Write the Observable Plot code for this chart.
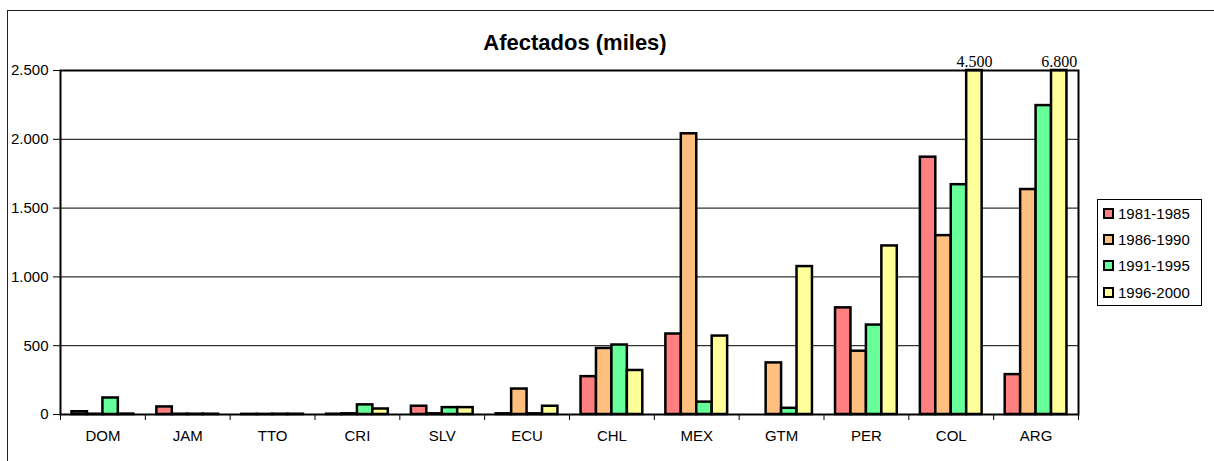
<!DOCTYPE html>
<html><head><meta charset="utf-8">
<script src="https://cdn.jsdelivr.net/npm/d3@7"></script>
<script src="https://cdn.jsdelivr.net/npm/@observablehq/plot@0.6"></script>
<style>
body{margin:0;background:#fff;overflow:hidden;font-family:"Liberation Sans",Arial,sans-serif;}
#wrap{position:relative;width:1214px;height:461px;overflow:hidden;}
#border{position:absolute;left:7px;top:10px;width:1300px;height:600px;border:1px solid #222;}
#title{position:absolute;left:0;width:1150px;top:30px;text-align:center;font-weight:bold;font-size:22px;}
#legend{position:absolute;left:1097px;top:199px;width:105px;height:107px;border:1px solid #000;box-sizing:border-box;background:#fff;}
.item{display:flex;align-items:center;height:26.3px;font-size:15px;}
.sw{width:11px;height:11px;border:2px solid #000;box-sizing:border-box;margin:0 4px 0 5px;}
#chart{position:absolute;left:0;top:0;}
</style></head>
<body>
<div id="wrap">
  <div id="border"></div>
  <div id="chart"></div>
  <div id="title">Afectados (miles)</div>
  <div id="legend"></div>
</div>
<script>
const countries = ["DOM","JAM","TTO","CRI","SLV","ECU","CHL","MEX","GTM","PER","COL","ARG"];
const periods = ["1981-1985","1986-1990","1991-1995","1996-2000"];
const colors = ["#FF8080","#FFBF7F","#66FF99","#FFFF99"];
const v1981 = [20, 55, 1, 2, 60, 5, 275, 585, 0, 775, 1870, 290];
const v1986 = [2, 2, 1, 5, 5, 185, 480, 2040, 375, 460, 1300, 1635];
const v1991 = [120, 2, 2, 70, 50, 5, 505, 90, 45, 650, 1670, 2245];
const v1996 = [3, 2, 2, 40, 50, 60, 320, 570, 1075, 1225, 4500, 6800];
const yTicks = [0, 500, 1000, 1500, 2000, 2500];
const gridValues = [500, 1000, 1500, 2000];
const yMax = 2500;

const series = [v1981, v1986, v1991, v1996];
const fmt = d3.formatLocale({decimal: ",", thousands: ".", grouping: [3], currency: ["", ""]}).format(",");
const data = [];
countries.forEach((c, i) => periods.forEach((p, j) => data.push({country: c, i, period: p, j, value: series[j][i]})));
const w = 0.182, pad = (1 - 4 * w) / 2;
const left = d => d.i - 0.5 + pad + d.j * w;
const over = data.filter(d => d.value > yMax);

const chart = Plot.plot({
  width: 1214, height: 461,
  marginLeft: 60, marginRight: 136, marginTop: 70, marginBottom: 47,
  x: {domain: [-0.5, countries.length - 0.5]},
  y: {domain: [0, yMax], clamp: true},
  color: {domain: periods, range: colors},
  style: {fontFamily: "'Liberation Sans', Arial, sans-serif", fontSize: "15px", color: "#000", background: "transparent"},
  marks: [
    Plot.ruleY(gridValues, {stroke: "#000", strokeWidth: 1}),
    Plot.rectY(data, {x1: left, x2: d => left(d) + w, y1: 0, y2: "value", fill: "period", stroke: "#000", strokeWidth: 2.5}),
    Plot.frame({stroke: "#000", strokeWidth: 2}),
    Plot.axisY({ticks: yTicks, tickFormat: fmt, tickSize: 7, tickPadding: 5, label: null, fontSize: 15}),
    Plot.axisX({ticks: d3.range(-0.5, countries.length, 1), tickFormat: () => "", tickSize: 6, label: null}),
    Plot.axisX({ticks: d3.range(countries.length), tickFormat: i => countries[i], tickSize: 0, tickPadding: 16, label: null, fontSize: 15}),
    Plot.text(over, {x: d => left(d) + w / 2, y: yMax, text: d => fmt(d.value), lineAnchor: "bottom", dy: -4, fontFamily: "'Liberation Serif', 'Times New Roman', serif", fontSize: 16, fill: "#000"})
  ]
});
document.getElementById("chart").appendChild(chart);

const legend = document.getElementById("legend");
periods.forEach((p, k) => {
  const item = document.createElement("div");
  item.className = "item";
  const sw = document.createElement("span");
  sw.className = "sw";
  sw.style.background = colors[k];
  const t = document.createElement("span");
  t.textContent = p;
  item.appendChild(sw); item.appendChild(t);
  legend.appendChild(item);
});
</script>
</body></html>
